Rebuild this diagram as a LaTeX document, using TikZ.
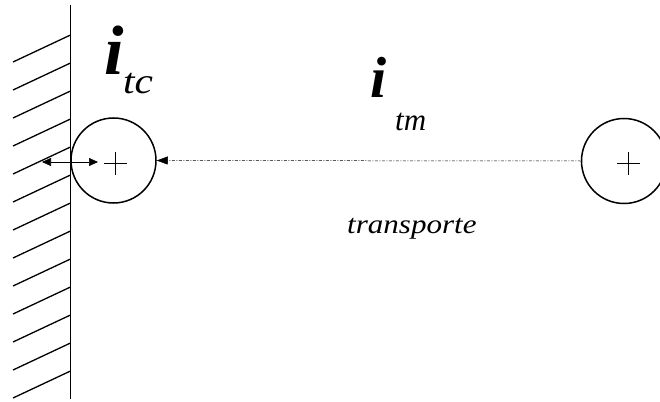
\documentclass[tikz,border=0pt]{standalone}
\usepackage{fontspec}
\setmainfont{Liberation Serif}
\newfontfamily\itfont{Liberation Serif Italic}
\newfontfamily\bifont{Liberation Serif Bold Italic}
\usetikzlibrary{arrows.meta}
\begin{document}
\begin{tikzpicture}[x=1pt,y=-1pt,
  wall/.style={line width=1.6pt},
  hatchline/.style={line width=1.3pt},
  ion/.style={circle,draw,line width=1.5pt,minimum size=85pt,inner sep=0pt},
  plusline/.style={line width=1.9pt},
  lbl/.style={anchor=base west,inner sep=0pt},
  dashdotline/.style={line width=0.5pt,dash pattern=on 3pt off 1.5pt on 1pt off 1.5pt},
  singletip/.style={-{Triangle[length=11pt,width=8pt]}},
  doubletip/.style={{Triangle[length=9pt,width=8pt]}-{Triangle[length=9pt,width=8pt]}}
]
\useasboundingbox (0,0) rectangle (660,401);
% wall
\coordinate (wtop) at (70.5,5);
\coordinate (wbot) at (70.5,399);
\draw[wall] (wtop) -- (wbot);
\foreach \k in {0,...,12}{
  \draw[hatchline] (13,{62+28*\k}) -- (70.5,{35+28*\k});
}
% ions
\node[ion] (c1) at (113.5,160.5) {};
\node[ion] (c2) at (624,161) {};
\draw[plusline] (104,163.5) -- (127,163.5) (115.5,152) -- (115.5,175);
\draw[plusline] (617,163.5) -- (640,163.5) (628.5,152) -- (628.5,175);
% arrows
\coordinate (dl) at (42,162);
\coordinate (dr) at (98,162);
\draw[doubletip,line width=0.6pt] (dl) -- (dr);
\draw[dashdotline,singletip] (c2.west) -- (c1.east);
% labels
\node[lbl] (itc) at (104,75) {\bifont\fontsize{70}{70}\selectfont i};
\node[lbl,xscale=1.15,transform shape] (tc) at (123,94) {\itfont\fontsize{36}{36}\selectfont tc};
\node[lbl] (itm) at (370,98) {\bifont\fontsize{58}{58}\selectfont i};
\node[lbl] (tm) at (395,130) {\itfont\fontsize{31}{31}\selectfont tm};
\node[lbl,xscale=1.15,transform shape] (tr) at (347,233) {\itfont\fontsize{27}{27}\selectfont transporte};
\end{tikzpicture}
\end{document}
